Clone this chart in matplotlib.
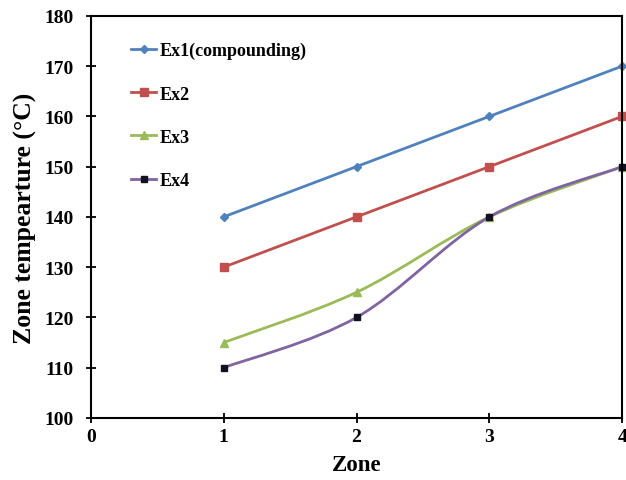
import numpy as np
import matplotlib.pyplot as plt
from matplotlib.path import Path
from matplotlib.patches import PathPatch
from matplotlib.lines import Line2D

plt.rcParams['font.family'] = ['Liberation Serif', 'DejaVu Serif']
plt.rcParams['font.weight'] = 'bold'

# data
zones = [1, 2, 3, 4]
ex1 = [140, 150, 160, 170]
ex2 = [130, 140, 150, 160]
ex3 = [115, 125, 140, 150]
ex4 = [110, 120, 140, 150]
labels = ['Ex1(compounding)', 'Ex2', 'Ex3', 'Ex4']

series = [
    (ex1, '#4F81BD', 'D', '#4F81BD', 4),
    (ex2, '#C0504D', 's', '#C0504D', 5.5),
    (ex3, '#9BBB59', '^', '#9BBB59', 6),
    (ex4, '#8064A2', 's', '#111122', 5),
]


def smooth_path(x, y):
    # Excel-like smoothed line as cubic Bezier segments
    pts = np.column_stack([x, y]).astype(float)
    n = len(pts)
    verts = [pts[0]]
    codes = [Path.MOVETO]
    for i in range(n - 1):
        p0 = pts[max(i - 1, 0)]
        p1 = pts[i]
        p2 = pts[i + 1]
        p3 = pts[min(i + 2, n - 1)]
        c1 = p1 + (p2 - p0) / 6
        c2 = p2 - (p3 - p1) / 6
        verts += [c1, c2, p2]
        codes += [Path.CURVE4] * 3
    return Path(verts, codes)


fig = plt.figure(figsize=(6.26, 4.81), dpi=100)
ax = fig.add_axes([0.145, 0.129, 0.849, 0.836])

handles = []
for (vals, col, mk, mcol, ms), lab in zip(series, labels):
    ax.add_patch(PathPatch(smooth_path(zones, vals), facecolor='none',
                           edgecolor=col, lw=2))
    ax.plot(zones, vals, ls='none', marker=mk, color=mcol, ms=ms, clip_on=False)
    handles.append(Line2D([], [], color=col, lw=2, marker=mk, mfc=mcol,
                          mec=mcol, ms=ms))

ax.set_xlim(0, 4)
ax.set_ylim(100, 180)
ax.set_xticks([0, 1, 2, 3, 4])
ax.set_yticks(range(100, 181, 10))
ax.tick_params(direction='inout', length=7, width=1.3, labelsize=14)
ax.tick_params(axis='y', pad=9)
for s in ax.spines.values():
    s.set_linewidth(1.5)

ax.set_xlabel('Zone', fontsize=16.5, fontweight='bold', labelpad=7)
ax.set_ylabel('Zone tempearture (°C)', fontsize=18.5, fontweight='bold', labelpad=5)

ax.legend(handles, labels, loc='upper left', bbox_to_anchor=(0.045, 0.975),
          frameon=False, handlelength=1.4, handletextpad=0.2,
          labelspacing=1.45, prop={'weight': 'bold', 'size': 13})

fig.savefig('out.png', dpi=100)
